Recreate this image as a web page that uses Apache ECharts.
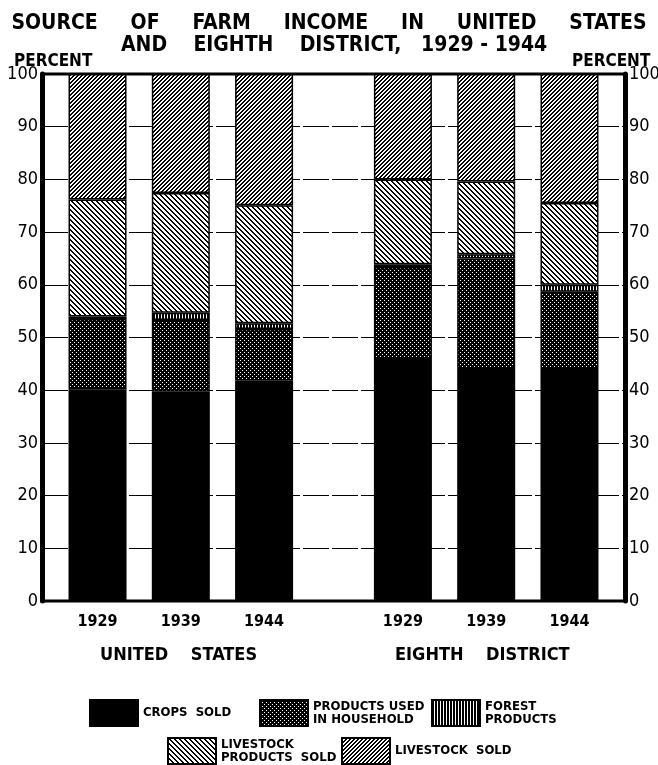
<!DOCTYPE html>
<html>
<head>
<meta charset="utf-8">
<script src="https://cdn.jsdelivr.net/npm/echarts/dist/echarts.min.js"></script>
<style>
  html, body { margin: 0; padding: 0; background: #fff; }
  #chart { width: 658px; height: 765px; }
</style>
</head>
<body>
<div id="chart"></div>
<script>
/* ------------------------------------------------------------------ */
/*        Source of farm income, US and Eighth District (percent)     */
/* ------------------------------------------------------------------ */

var years = ['1929', '1939', '1944'];
var regionNames = ['UNITED    STATES', 'EIGHTH    DISTRICT'];
var seriesNames = ['CROPS SOLD', 'PRODUCTS USED IN HOUSEHOLD', 'FOREST PRODUCTS', 'LIVESTOCK PRODUCTS SOLD', 'LIVESTOCK SOLD'];
// order of bars: US 1929, 1939, 1944 then Eighth District 1929, 1939, 1944
var cropsSold         = [40.2, 39.7, 41.8, 45.9, 44.0, 44.0];
var householdUse      = [13.3, 13.6,  9.8, 17.5, 21.0, 14.7];
var forestProducts    = [ 0.5,  1.4,  1.1,  0.5,  0.8,  1.3];
var livestockProducts = [22.2, 22.7, 22.4, 16.1, 13.8, 15.5];
var livestockSold     = [23.8, 22.6, 24.9, 20.0, 20.4, 24.5];
var yTicks = [0, 10, 20, 30, 40, 50, 60, 70, 80, 90, 100];

var FONT = "'DejaVu Sans Condensed', 'Liberation Sans Narrow', 'Liberation Sans', sans-serif";

// category slots: two groups of three bars with a wider gap in the middle
var slotCount = 22;
var barSlots = [2, 5, 8, 13, 16, 19];
var slots = [];
for (var i = 0; i < slotCount; i++) slots.push('');
barSlots.forEach(function (s, k) { slots[s] = years[k % 3]; });

const toSlots = values => {
  var out = slots.map(() => '-');
  barSlots.forEach(function (s, k) { out[s] = values[k]; });
  return out;
};

// fill patterns, drawn pixel by pixel on small canvases
const makePattern = (size, isInk) => {
  var c = document.createElement('canvas');
  c.width = size; c.height = size;
  var ctx = c.getContext('2d');
  ctx.fillStyle = '#fff';
  ctx.fillRect(0, 0, size, size);
  ctx.fillStyle = '#000';
  for (var x = 0; x < size; x++)
    for (var y = 0; y < size; y++)
      if (isInk(x, y, size)) ctx.fillRect(x, y, 1, 1);
  return { image: c, repeat: 'repeat' };
};

var stipple = makePattern(4, (x, y) => !((x === 0 && y === 0) || (x === 2 && y === 2)));
var vertical = makePattern(3, (x) => x < 2);
var backHatch = makePattern(5, (x, y, s) => ((x - y + s) % s) < 2);   // "\\\"
var fwdHatch = makePattern(4, (x, y, s) => ((x + y) % s) < 2);        // "///"

var fills = ['#000', stipple, vertical, backHatch, fwdHatch];
var values = [cropsSold, householdUse, forestProducts, livestockProducts, livestockSold];
var legendText = {
  'CROPS SOLD': 'CROPS  SOLD',
  'PRODUCTS USED IN HOUSEHOLD': 'PRODUCTS USED\nIN HOUSEHOLD',
  'FOREST PRODUCTS': 'FOREST\nPRODUCTS',
  'LIVESTOCK PRODUCTS SOLD': 'LIVESTOCK\nPRODUCTS  SOLD',
  'LIVESTOCK SOLD': 'LIVESTOCK  SOLD'
};
var legendPos = [[84, 694], [254, 694], [426, 694], [162, 732], [336, 732]];

var chart = echarts.init(document.getElementById('chart'));

var axisLabelStyle = { color: '#000', fontSize: 18, fontFamily: FONT };
var titleStyle = { color: '#000', fontSize: 21, fontWeight: 'bold', fontFamily: FONT };

var option = {
  animation: false,
  backgroundColor: '#fff',
  title: [
    { text: 'SOURCE     OF     FARM     INCOME     IN     UNITED     STATES', left: 'center', top: 8, textStyle: titleStyle },
    { text: 'AND    EIGHTH    DISTRICT,   1929 - 1944', left: 116, top: 30, textStyle: titleStyle }
  ],
  legend: seriesNames.map((name, k) => ({
    data: [name],
    left: legendPos[k][0],
    top: legendPos[k][1],
    itemWidth: 48,
    itemHeight: 26,
    icon: 'rect',
    formatter: n => legendText[n],
    textStyle: { color: '#000', fontSize: 13, lineHeight: 13, fontFamily: FONT, fontWeight: 'bold' }
  })),
  grid: {
    left: 42, right: 33, top: 74, bottom: 164,
    show: true, borderColor: '#000', borderWidth: 3,
    outerBoundsMode: 'none'
  },
  xAxis: {
    type: 'category',
    data: slots,
    boundaryGap: false,
    axisLine: { show: false },
    axisTick: { show: false },
    splitLine: { show: false },
    axisLabel: { interval: 0, margin: 13, color: '#000', fontSize: 16, fontWeight: 'bold', fontFamily: FONT }
  },
  yAxis: [0, 1].map(k => ({
    type: 'value',
    position: k ? 'right' : 'left',
    min: yTicks[0], max: yTicks[yTicks.length - 1], interval: 10,
    axisLine: { show: true, lineStyle: { color: '#000', width: 5 } },
    axisTick: { show: false },
    axisLabel: Object.assign({ margin: 4 }, axisLabelStyle),
    splitLine: k ? { show: false } : { show: true, lineStyle: { color: '#000', width: 1.1, type: [26, 3] } }
  })),
  graphic: [
    { type: 'text', left: 14, top: 53, style: { text: 'PERCENT', fill: '#000', font: 'bold 17px ' + FONT } },
    { type: 'text', left: 572, top: 53, style: { text: 'PERCENT', fill: '#000', font: 'bold 17px ' + FONT } },
    { type: 'text', left: 100, top: 646, style: { text: regionNames[0], fill: '#000', font: 'bold 18px ' + FONT } },
    { type: 'text', left: 395, top: 646, style: { text: regionNames[1], fill: '#000', font: 'bold 18px ' + FONT } }
  ],
  series: seriesNames.map((name, k) => ({
    name: name,
    type: 'bar',
    stack: 'total',
    barWidth: 58,
    data: toSlots(values[k]),
    itemStyle: { color: fills[k], borderColor: '#000', borderWidth: 1.5 }
  }))
};

chart.setOption(option);
</script>
</body>
</html>
